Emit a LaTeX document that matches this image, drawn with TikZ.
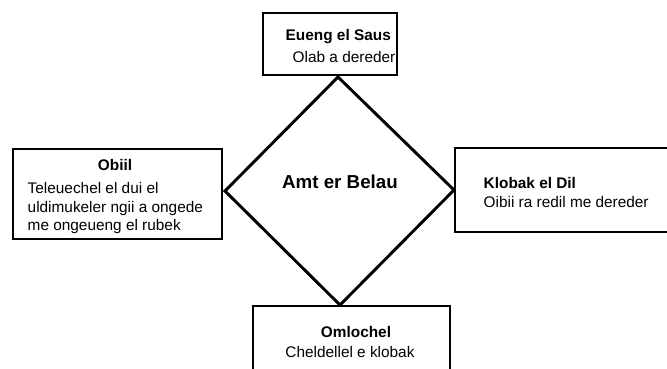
\documentclass[tikz,border=0pt]{standalone}
\usepackage{fontspec}
\setmainfont{Liberation Sans}
\usepackage{tikz}

\begin{document}
\begin{tikzpicture}[x=0.024cm, y=-0.024cm, line width=1pt,
  head/.style={font=\fontsize{10.5}{12.5}\selectfont\bfseries, inner sep=0pt},
  txt/.style={font=\fontsize{10.5}{12.5}\selectfont, inner sep=0pt}]
\clip (0,0) rectangle (667,368) ;
\coordinate (A1) at (338,77 ) ;
\coordinate (A2) at (454,190) ;
\coordinate (A3) at (340,305) ;
\coordinate (A4) at (225,191) ;
\coordinate (B1) at (263,13 ) ;
\coordinate (B2) at (397,75 ) ;
\coordinate (C1) at (13 ,149) ;
\coordinate (C2) at (222,239) ;
\coordinate (D1) at (455,148) ;
\coordinate (D2) at (690,232) ;
\coordinate (E1) at (253,306) ;
\coordinate (E2) at (450,390) ;
\draw (B1) rectangle (B2);
\draw (C1) rectangle (C2);
\draw (D1) rectangle (D2);
\draw (E1) rectangle (E2);
\draw [line width=2pt, line join=miter] (A1) -- (A2) -- (A3) -- (A4) -- cycle;

\node [head, font=\fontsize{12.8}{15}\selectfont\bfseries] (N0) at (340,182) {Amt er Belau};
\node [head, anchor=west] (N1) at (285,37) {Eueng el Saus};
\node [txt,  anchor=west] (N2) at (292,57) {Olab a dereder};
\node [head] (N3) at (115,165) {Obiil};
\node [txt, anchor=north west, align=left] (N4) at (27,182)
  {Teleuechel el dui el\\uldimukeler ngii a ongede\\me ongeueng el rubek};
\node [head, anchor=west] (N5) at (483,183) {Klobak el Dil};
\node [txt,  anchor=west] (N6) at (483,202) {Oibii ra redil me dereder};
\node [head] (N7) at (356,332) {Omlochel};
\node [txt]  (N8) at (350,352) {Cheldellel e klobak};

\end{tikzpicture}
\end{document}
